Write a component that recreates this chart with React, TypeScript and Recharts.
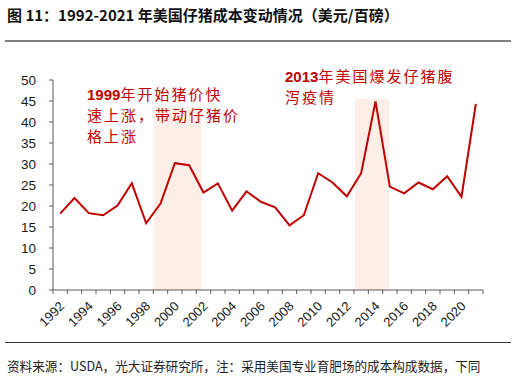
import React from 'react'
import { ComposedChart, Line, XAxis, YAxis, ReferenceArea } from 'recharts'

const years = [
  1992, 1993, 1994, 1995, 1996, 1997, 1998, 1999, 2000, 2001, 2002, 2003, 2004, 2005, 2006,
  2007, 2008, 2009, 2010, 2011, 2012, 2013, 2014, 2015, 2016, 2017, 2018, 2019, 2020, 2021,
]
const pigletCost = [
  18.2, 21.9, 18.3, 17.8, 20.1, 25.4, 15.9, 20.6, 30.2, 29.7, 23.2, 25.4, 18.9, 23.5, 21.0,
  19.7, 15.4, 17.8, 27.8, 25.6, 22.3, 27.8, 44.9, 24.6, 23.0, 25.6, 24.0, 27.1, 22.2, 44.3,
]
const labelYears = [1992, 1994, 1996, 1998, 2000, 2002, 2004, 2006, 2008, 2010, 2012, 2014, 2016, 2018, 2020]
const yTicks = [0, 5, 10, 15, 20, 25, 30, 35, 40, 45, 50]
// shaded periods: [from, to, top]
const shade1999 = [1998.53, 2001.87, 43.5]
const shade2013 = [2012.57, 2014.96, 45.5]

const note1999 = ['1999年开始猪价快', '速上涨，带动仔猪价', '格上涨']
const note2013 = ['2013年美国爆发仔猪腹', '泻疫情']

const data = years.map((y, i) => ({ year: y, cost: pigletCost[i] }))
const xTicks = [...years.map((y) => y - 0.5), years[years.length - 1] + 0.5]

const PLOT_W = 430
const BW = PLOT_W / years.length
const RED = '#C00000'
const AXIS = '#595959'
const LATIN = '"Liberation Sans", Arial, sans-serif'
const CJK = '"Liberation Sans", "Noto Sans CJK SC", sans-serif'

const XTick = (props: any) => {
  const { x, y, payload } = props
  const year = payload.value + 0.5
  const ax = x + BW / 2 + 5
  const ay = y + 17
  return (
    <g>
      <line x1={x} y1={y} x2={x} y2={y + 4} stroke={AXIS} strokeWidth={1} />
      {labelYears.includes(year) && (
        <text
          x={ax}
          y={ay}
          textAnchor="end"
          transform={`rotate(-45, ${ax}, ${ay})`}
          fontSize={13}
          fontFamily={LATIN}
          fill="#1a1a1a"
        >
          {year}
        </text>
      )}
    </g>
  )
}

// digits bold, chinese lighter
const NoteLine = ({ text }: { text: string }) => {
  const parts = text.split(/(\d+)/).filter((p) => p !== '')
  return (
    <>
      {parts.map((p, i) =>
        /^\d+$/.test(p) ? (
          <span key={i} style={{ fontWeight: 700, fontFamily: LATIN }}>
            {p}
          </span>
        ) : (
          <span key={i} style={{ fontWeight: 400, letterSpacing: 2 }}>
            {p}
          </span>
        )
      )}
    </>
  )
}

const Note = ({ lines, left, top }: { lines: string[]; left: number; top: number }) => (
  <div
    style={{
      position: 'absolute',
      left,
      top,
      color: RED,
      fontSize: 15,
      lineHeight: '21px',
      fontFamily: CJK,
      whiteSpace: 'nowrap',
    }}
  >
    {lines.map((l, i) => (
      <div key={i}>
        <NoteLine text={l} />
      </div>
    ))}
  </div>
)

export default function App() {
  return (
    <div
      style={{
        position: 'absolute',
        left: 0,
        top: 0,
        width: 516,
        height: 376,
        background: '#fff',
        fontFamily: CJK,
      }}
    >
      <div
        style={{
          position: 'absolute',
          left: 7,
          top: 4,
          fontSize: 15,
          fontWeight: 700,
          color: '#111',
          whiteSpace: 'nowrap',
          fontFamily: '"Noto Sans CJK SC", sans-serif',
        }}
      >
        图 11：1992-2021 年美国仔猪成本变动情况（美元/百磅）
      </div>
      <div style={{ position: 'absolute', left: 5, top: 40, width: 506, height: 2, background: '#7f7f7f' }} />

      <div style={{ position: 'absolute', left: 0, top: 0 }}>
        <ComposedChart
          width={516}
          height={376}
          data={data}
          margin={{ top: 80, right: 33, bottom: 46, left: 8 }}
        >
          <ReferenceArea
            x1={shade1999[0]}
            x2={shade1999[1]}
            y1={0}
            y2={shade1999[2]}
            fill="#FDEEE8"
            fillOpacity={1}
            stroke="none"
            ifOverflow="visible"
          />
          <ReferenceArea
            x1={shade2013[0]}
            x2={shade2013[1]}
            y1={0}
            y2={shade2013[2]}
            fill="#FDEEE8"
            fillOpacity={1}
            stroke="none"
            ifOverflow="visible"
          />
          <XAxis
            dataKey="year"
            type="number"
            domain={[xTicks[0], xTicks[xTicks.length - 1]]}
            ticks={xTicks}
            interval={0}
            tickLine={false}
            tickSize={0}
            tickMargin={0}
            tick={<XTick />}
            axisLine={{ stroke: AXIS, strokeWidth: 1 }}
            height={40}
          />
          <YAxis
            type="number"
            domain={[0, 50]}
            ticks={yTicks}
            interval={0}
            width={45}
            tickSize={4}
            tickMargin={13}
            tickLine={{ stroke: AXIS }}
            axisLine={{ stroke: AXIS, strokeWidth: 1 }}
            tick={{ fontSize: 13.5, fill: '#1a1a1a', fontFamily: LATIN }}
          />
          <Line
            type="linear"
            dataKey="cost"
            stroke={RED}
            strokeWidth={2}
            dot={false}
            isAnimationActive={false}
          />
        </ComposedChart>
      </div>

      <Note lines={note1999} left={87} top={84} />
      <Note lines={note2013} left={285} top={66} />

      <div style={{ position: 'absolute', left: 5, top: 342, width: 506, height: 1, background: '#333' }} />
      <div
        style={{
          position: 'absolute',
          left: 7,
          top: 358,
          fontSize: 12.6,
          color: '#222',
          whiteSpace: 'nowrap',
          lineHeight: '16px',
          fontFamily: '"Noto Sans CJK SC", sans-serif',
        }}
      >
        资料来源：USDA，光大证券研究所，注：采用美国专业育肥场的成本构成数据，下同
      </div>
    </div>
  )
}
